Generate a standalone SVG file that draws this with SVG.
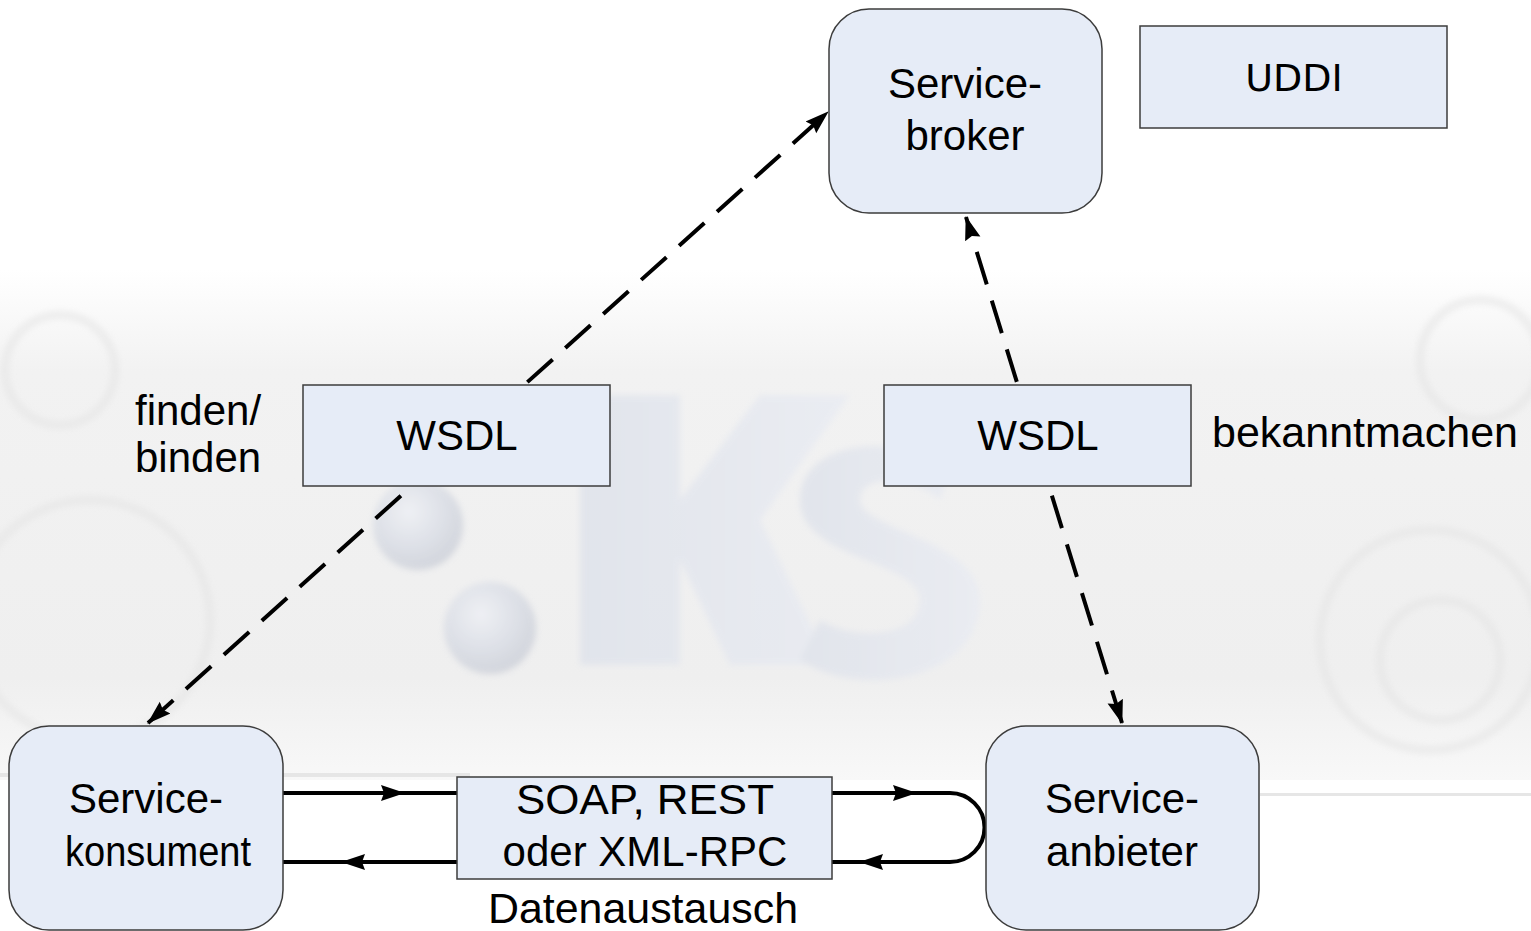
<svg xmlns="http://www.w3.org/2000/svg" width="1531" height="931" viewBox="0 0 1531 931">
  <defs>
    <style>
      .node { fill: #E6ECF7; stroke: #3C3C3C; stroke-width: 1.5; }
      .lbl { font-family: "Liberation Sans", Arial, sans-serif; font-size: 42px; fill: #000; text-anchor: middle; }
      .side { font-family: "Liberation Sans", Arial, sans-serif; font-size: 42px; fill: #000; }
      .uddi { font-family: "DejaVu Sans", sans-serif; font-size: 38px; fill: #000; text-anchor: middle; }
      .dash { fill: none; stroke: #000; stroke-width: 4; stroke-dasharray: 34 17; }
      .solid { fill: none; stroke: #000; stroke-width: 4; }
    </style>
    <marker id="tip" viewBox="0 0 24 18" refX="23" refY="9" markerWidth="24" markerHeight="18" markerUnits="userSpaceOnUse" orient="auto-start-reverse">
      <path d="M0,1 L24,9 L0,17 L3,9 Z" fill="#000"/>
    </marker>
    <linearGradient id="band" x1="0" y1="0" x2="0" y2="1">
      <stop offset="0" stop-color="#ffffff"/>
      <stop offset="0.2" stop-color="#f2f2f2"/>
      <stop offset="0.8" stop-color="#efefef"/>
      <stop offset="1" stop-color="#f8f8f8"/>
    </linearGradient>
    <radialGradient id="ball" cx="0.4" cy="0.35" r="0.7">
      <stop offset="0" stop-color="#eef0f6"/>
      <stop offset="0.6" stop-color="#d6dae3"/>
      <stop offset="1" stop-color="#c6cad4"/>
    </radialGradient>
    <linearGradient id="kfill" x1="0" y1="0" x2="1" y2="0">
      <stop offset="0" stop-color="#dde1ea"/>
      <stop offset="1" stop-color="#e8ebf3"/>
    </linearGradient>
    <filter id="soft" x="-10%" y="-10%" width="120%" height="120%">
      <feGaussianBlur stdDeviation="3"/>
    </filter>
  </defs>

  <!-- backdrop -->
  <rect x="0" y="0" width="1531" height="931" fill="#ffffff"/>
  <rect x="0" y="270" width="1531" height="510" fill="url(#band)"/>
  <g fill="none" stroke="#e4e4e4" stroke-width="8" opacity="0.6" filter="url(#soft)">
    <circle cx="60" cy="370" r="55"/>
    <circle cx="90" cy="620" r="120"/>
    <circle cx="1430" cy="640" r="110"/>
    <circle cx="1440" cy="660" r="60"/>
    <circle cx="1480" cy="360" r="60"/>
  </g>
  <rect x="0" y="773" width="470" height="4" fill="#e6e6e6"/>
  <rect x="1260" y="793" width="271" height="3" fill="#e6e6e6"/>
  <!-- faint logo -->
  <g opacity="0.75" filter="url(#soft)">
    <circle cx="418" cy="525" r="45" fill="url(#ball)"/>
    <circle cx="490" cy="628" r="46" fill="url(#ball)"/>
    <path d="M580,395 L680,395 L680,500 L760,395 L850,395 L760,520 L830,665 L730,665 L680,560 L680,665 L580,665 Z" fill="url(#kfill)"/>
    <path d="M950,470 C900,430 800,440 800,500 C800,560 920,560 920,600 C920,640 850,640 820,620 L800,660 C860,700 980,680 980,600 C980,540 860,530 860,500 C860,470 920,480 940,500 Z" fill="url(#kfill)"/>
  </g>

  <!-- connectors -->
  <g id="connectors">
    <line class="dash" x1="148" y1="723" x2="828" y2="112" marker-start="url(#tip)" marker-end="url(#tip)"/>
    <line class="dash" x1="1122" y1="723" x2="966" y2="217" marker-start="url(#tip)" marker-end="url(#tip)"/>
    <!-- request/response loop -->
    <line class="solid" x1="283" y1="793" x2="457" y2="793"/>
    <line class="solid" x1="283" y1="793" x2="404" y2="793" marker-end="url(#tip)"/>
    <line class="solid" x1="457" y1="862" x2="283" y2="862"/>
    <line class="solid" x1="457" y1="862" x2="342" y2="862" marker-end="url(#tip)"/>
    <path class="solid" d="M832,793 L950,793 A34.5,34.5 0 0 1 950,862 L832,862"/>
    <line class="solid" x1="832" y1="793" x2="916" y2="793" marker-end="url(#tip)"/>
    <line class="solid" x1="950" y1="862" x2="860" y2="862" marker-end="url(#tip)"/>
  </g>

  <g id="servicebroker">
    <rect class="node" x="829" y="9" width="273" height="204" rx="40"/>
    <text class="lbl" x="965" y="98">Service-</text>
    <text class="lbl" x="965" y="150">broker</text>
  </g>

  <g id="uddi">
    <rect class="node" x="1140" y="26" width="307" height="102"/>
    <text class="uddi" x="1294" y="91">UDDI</text>
  </g>

  <g id="wsdl-left">
    <rect class="node" x="303" y="385" width="307" height="101"/>
    <text class="lbl" x="457" y="450">WSDL</text>
  </g>
  <text class="side" x="135" y="425">finden/</text>
  <text class="side" x="135" y="472">binden</text>

  <g id="wsdl-right">
    <rect class="node" x="884" y="385" width="307" height="101"/>
    <text class="lbl" x="1038" y="450">WSDL</text>
  </g>
  <text class="side" x="1212" y="447" textLength="306" lengthAdjust="spacingAndGlyphs">bekanntmachen</text>

  <g id="servicekonsument">
    <rect class="node" x="9" y="726" width="274" height="204" rx="40"/>
    <text class="lbl" x="146" y="813">Service-</text>
    <text class="lbl" x="158" y="866" textLength="186" lengthAdjust="spacingAndGlyphs">konsument</text>
  </g>

  <g id="transport">
    <rect class="node" x="457" y="777" width="375" height="102"/>
    <text class="lbl" x="645" y="814" textLength="258" lengthAdjust="spacingAndGlyphs">SOAP, REST</text>
    <text class="lbl" x="645" y="866">oder XML-RPC</text>
  </g>
  <text class="lbl" x="643" y="923" textLength="310" lengthAdjust="spacingAndGlyphs">Datenaustausch</text>

  <g id="serviceanbieter">
    <rect class="node" x="986" y="726" width="273" height="204" rx="40"/>
    <text class="lbl" x="1122" y="813">Service-</text>
    <text class="lbl" x="1122" y="866">anbieter</text>
  </g>
</svg>
